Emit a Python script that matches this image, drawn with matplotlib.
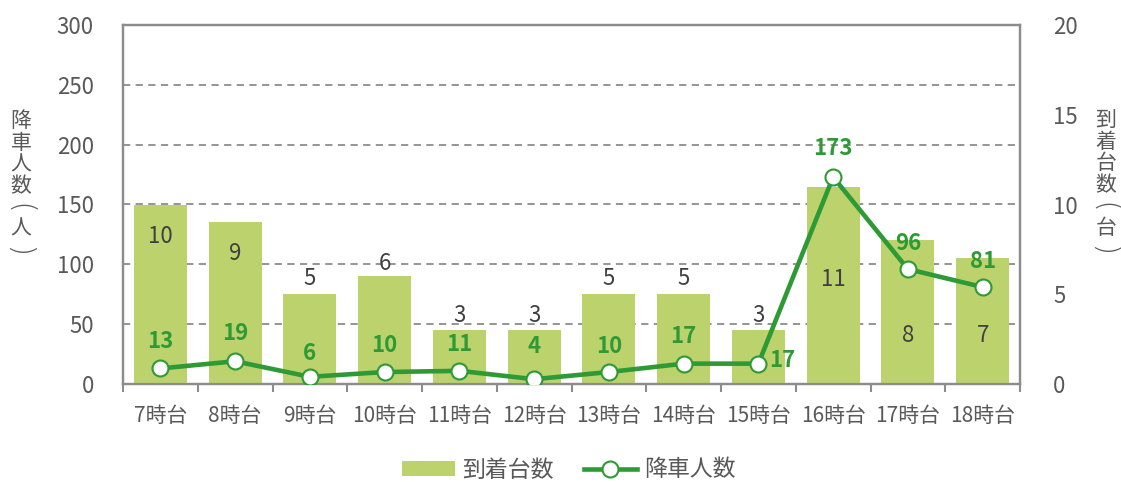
import matplotlib
matplotlib.use("Agg")
import matplotlib.pyplot as plt
from matplotlib.patches import Patch
from matplotlib.lines import Line2D
from matplotlib.ticker import FixedLocator

plt.rcParams['font.family'] = ['Noto Sans CJK JP', 'DejaVu Sans']

# --- data ---------------------------------------------------------------
hours = ['7時台', '8時台', '9時台', '10時台', '11時台', '12時台',
         '13時台', '14時台', '15時台', '16時台', '17時台', '18時台']
arrivals = [10, 9, 5, 6, 3, 3, 5, 5, 3, 11, 8, 7]            # 到着台数 (台)
passengers = [13, 19, 6, 10, 11, 4, 10, 17, 17, 173, 96, 81]  # 降車人数 (人)

left_ticks = [0, 50, 100, 150, 200, 250, 300]
right_ticks = [0, 5, 10, 15, 20]

# --- styling / label placement -----------------------------------------
BAR_C = '#bcd26c'
LINE_C = '#2e9a35'
TXT_C = '#595959'
AX_C = '#8c8c8c'
W, H = 1121, 482
# vertical centre of each bar's count label, in 台 units
bar_label_pos = [8.2, 7.25, 5.9, 6.7, 3.8, 3.8, 5.9, 5.9, 3.8, 5.8, 2.7, 2.7]
# pixel offsets of each passenger label from its marker
line_label_off = [(0, 27), (0, 28), (0, 23), (0, 27), (0, 26), (0, 33),
                  (0, 26), (0, 27), (24, 3), (0, 28), (0, 26), (0, 26)]

fig = plt.figure(figsize=(W / 100, H / 100), dpi=100)
rect = [123 / W, 1 - 384 / H, (1020 - 123) / W, (384 - 25) / H]

# background axis: left scale, grid, spines
ax = fig.add_axes(rect)
ax.set_xlim(-0.5, len(hours) - 0.5)
ax.set_ylim(0, 300)
ax.yaxis.set_major_locator(FixedLocator(left_ticks))
ax.grid(axis='y', color=AX_C, linestyle=(0, (4, 3)), linewidth=1.3)
ax.tick_params(axis='y', length=0, pad=21, labelsize=16, labelcolor=TXT_C)
ax.set_xticks(range(len(hours)))
ax.set_xticklabels(hours)
ax.set_xticks([i - 0.5 for i in range(len(hours) + 1)], minor=True)
ax.tick_params(axis='x', which='major', length=0, pad=15, labelsize=15,
               labelcolor=TXT_C)
ax.tick_params(axis='x', which='minor', length=6, width=1.5, color=AX_C,
               direction='out')
for s in ax.spines.values():
    s.set_color(AX_C)
    s.set_linewidth(1.6)

# bar axis: right scale
ax2 = ax.twinx()
ax2.patch.set_visible(False)
ax2.set_ylim(0, 20)
ax2.yaxis.set_major_locator(FixedLocator(right_ticks))
ax2.tick_params(axis='y', length=0, pad=24, labelsize=16, labelcolor=TXT_C)
for s in ax2.spines.values():
    s.set_color(AX_C)
    s.set_linewidth(1.6)
x = list(range(len(hours)))
ax2.bar(x, arrivals, width=0.71, color=BAR_C, zorder=2)
for xi, v, yp in zip(x, arrivals, bar_label_pos):
    ax2.text(xi, yp, str(v), ha='center', va='center', fontsize=16,
             color='#404040', zorder=3)

# line axis: left scale, drawn on top
ax3 = ax.twinx()
ax3.patch.set_visible(False)
ax3.set_ylim(0, 300)
ax3.set_yticks([])
for s in ax3.spines.values():
    s.set_visible(False)
ax3.plot(x, passengers, color=LINE_C, linewidth=3.3, marker='o',
         markersize=11.5, markerfacecolor='white', markeredgecolor=LINE_C,
         markeredgewidth=1.5, zorder=4)
for xi, v, off in zip(x, passengers, line_label_off):
    ax3.annotate(str(v), (xi, v), xytext=off, textcoords='offset pixels',
                 ha='center', va='center', fontsize=16, fontweight='bold',
                 color=LINE_C, zorder=5)


def vertical_title(xpix, ytop, chars, step=21.6):
    """Stack characters top to bottom; brackets are turned to vertical form."""
    for i, ch in enumerate(chars):
        y = 1 - (ytop + i * step) / H
        if ch in '()':
            fig.text(xpix / W, y, ch, ha='center', va='center', fontsize=20,
                     color=TXT_C, rotation=-90, fontweight='light')
        else:
            fig.text(xpix / W, y, ch, ha='center', va='center', fontsize=15,
                     color=TXT_C)


vertical_title(21, 121, '降車人数(人)')
vertical_title(1106, 120, '到着台数(台)')

handles = [Patch(facecolor=BAR_C, edgecolor='none'),
           Line2D([], [], color=LINE_C, linewidth=3.3, marker='o',
                  markersize=11.5, markerfacecolor='white',
                  markeredgecolor=LINE_C, markeredgewidth=1.5)]
fig.legend(handles, ['到着台数', '降車人数'], loc='center',
           bbox_to_anchor=(569 / W, 1 - 470 / H), ncol=2, frameon=False,
           fontsize=16.5, labelcolor=TXT_C, handlelength=2.3,
           handleheight=0.6, handletextpad=0.35, columnspacing=1.3)

fig.savefig('out.png', dpi=100)
